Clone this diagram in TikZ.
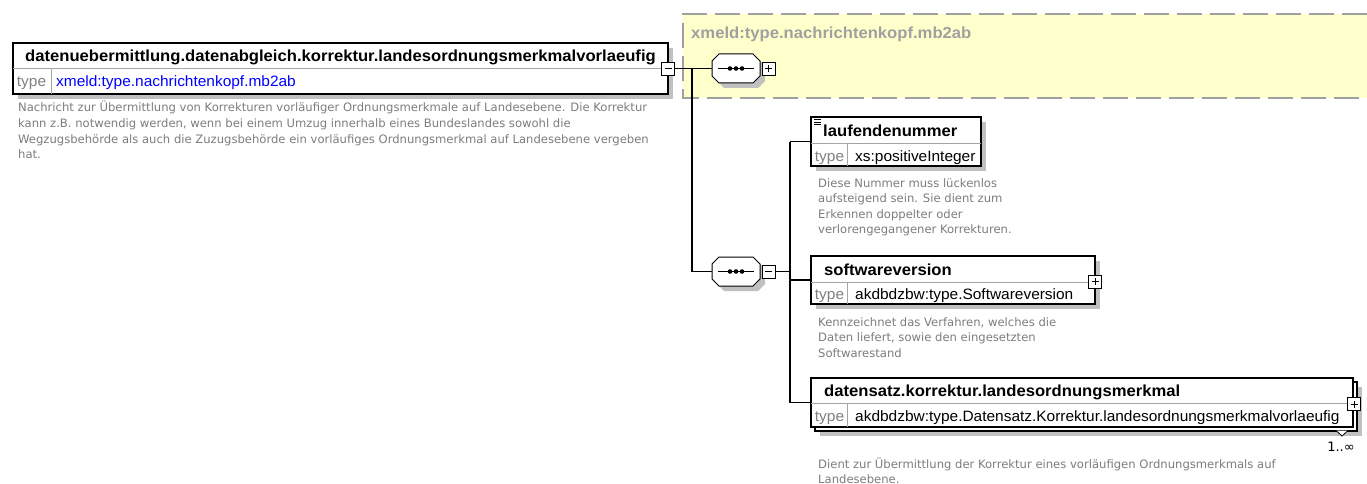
\documentclass[tikz,border=0pt]{standalone}
\usepackage{fontspec}
\setmainfont{Liberation Sans}
\newfontfamily\titlefont[FakeStretch=1.04]{Liberation Sans}
\newfontfamily\typefont[FakeStretch=1.03]{Liberation Sans}
\newfontfamily\descfont{DejaVu Sans}
\definecolor{shadowgray}{RGB}{192,192,192}
\definecolor{sepgray}{RGB}{165,165,165}
\definecolor{lblgray}{RGB}{128,128,128}
\definecolor{descgray}{RGB}{125,125,125}
\definecolor{yellowfill}{RGB}{255,255,204}
\definecolor{dashgray}{RGB}{160,160,160}
\definecolor{linkblue}{RGB}{0,0,255}
\newcommand\desclines[1]{\begin{tabular}[t]{@{}l@{}}#1\end{tabular}}
\tikzset{
  elbox/.style={draw=black, fill=white, line width=1.2pt, inner sep=0pt},
  sepline/.style={draw=sepgray, line width=0.8pt},
  conn/.style={draw=black, line width=1.2pt},
  titletext/.style={anchor=base west, inner sep=0pt, font=\titlefont\bfseries\fontsize{16}{18}\selectfont},
  typelbl/.style={anchor=base, inner sep=0pt, text=lblgray, font=\typefont\fontsize{15}{17}\selectfont},
  typetext/.style={anchor=base west, inner sep=0pt, font=\typefont\fontsize{15}{17}\selectfont},
  desctext/.style={anchor=base west, inner sep=0pt, text=descgray, font=\descfont\fontsize{11.6}{15.6}\selectfont},
  minusbox/.style={draw=black, fill=white, line width=0.9pt, minimum size=13pt, inner sep=0pt,
    path picture={\draw[line width=0.9pt] ([xshift=3pt]path picture bounding box.west) -- ([xshift=-3pt]path picture bounding box.east);}},
  plusbox/.style={draw=black, fill=white, line width=0.9pt, minimum size=13pt, inner sep=0pt,
    path picture={\draw[line width=0.9pt] ([xshift=3pt]path picture bounding box.west) -- ([xshift=-3pt]path picture bounding box.east)
      ([yshift=-3pt]path picture bounding box.north) -- ([yshift=3pt]path picture bounding box.south);}},
}
\newcommand\seqsym[3]{%
  \begin{scope}[shift={(#1,#2)}]
    \fill[shadowgray] (12,5) -- (46,5) -- (53,12) -- (53,27) -- (46,34) -- (12,34) -- (5,27) -- (5,12) -- cycle;
    \draw[fill=white, line width=1pt] (7,0) -- (41,0) -- (48,7) -- (48,22) -- (41,29) -- (7,29) -- (0,22) -- (0,7) -- cycle;
    \draw[line width=1.2pt] (6,14.5) -- (42,14.5);
    \fill (18,14.5) circle (2.3pt) (24,14.5) circle (2.3pt) (30,14.5) circle (2.3pt);
    \node[inner sep=0pt, minimum width=48pt, minimum height=29pt] (#3) at (24,14.5) {};
  \end{scope}}
\begin{document}
\begin{tikzpicture}[x=1pt,y=-1pt]
\useasboundingbox (0,0) rectangle (1367,484);
\fill[white] (0,0) rectangle (1367,484);

% yellow group
\fill[yellowfill] (683,14) rectangle (1367,98);
\draw[dashgray, line width=2pt, dash pattern=on 25pt off 8pt] (1367,14) -- (683,14) -- (683,98) -- (1367,98);
\node[titletext, text=dashgray] (grp) at (691,38.5) {xmeld:type.nachrichtenkopf.mb2ab};

% main element
\fill[shadowgray] (18,48) rectangle (673,99);
\node[elbox, minimum width=655pt, minimum height=51pt] (main) at (340.5,68.5) {};
\draw[sepline] (13,68.5) -- (668,68.5);
\draw[sepline] (51,68.5) -- (51,94);
\node[titletext] (maintitle) at (25,61.5) {datenuebermittlung.datenabgleich.korrektur.landesordnungsmerkmalvorlaeufig};
\node[typelbl] (maintl) at (31.5,86.5) {type};
\node[typetext, text=linkblue] (maintype) at (56,86.5) {xmeld:type.nachrichtenkopf.mb2ab};
\node[desctext] (maindesc) at (18,112) {\desclines{Nachricht zur Übermittlung von Korrekturen vorläufiger Ordnungsmerkmale auf Landesebene. Die Korrektur\\kann z.B. notwendig werden, wenn bei einem Umzug innerhalb eines Bundeslandes sowohl die\\Wegzugsbehörde als auch die Zuzugsbehörde ein vorläufiges Ordnungsmerkmal auf Landesebene vergeben\\hat.}};

% sequences
\seqsym{712}{54}{seqa}
\node[plusbox] (seqapm) at (768.5,68.5) {};
\seqsym{712}{257}{seqb}
\node[minusbox] (seqbpm) at (768.5,271.5) {};

% laufendenummer
\fill[shadowgray] (816,122) rectangle (986,171);
\node[elbox, minimum width=170pt, minimum height=49pt] (lauf) at (896,141.5) {};
\draw[sepline] (811,143) -- (981,143);
\draw[sepline] (847,143) -- (847,166);
\draw[line width=0.8pt] (814,119.5) -- (821,119.5) (814,122) -- (821,122) (814,124.5) -- (821,124.5);
\node[titletext] (lauftitle) at (823,136) {laufendenummer};
\node[typelbl] (lauftl) at (829.5,161) {type};
\node[typetext] (lauftype) at (855,161) {xs:positiveInteger};
\node[desctext] (laufdesc) at (818,187) {\desclines{Diese Nummer muss lückenlos\\aufsteigend sein. Sie dient zum\\Erkennen doppelter oder\\verlorengegangener Korrekturen.}};

% softwareversion
\fill[shadowgray] (816,261) rectangle (1100,309);
\node[elbox, minimum width=284pt, minimum height=48pt] (soft) at (953,280) {};
\draw[sepline] (811,282) -- (1095,282);
\draw[sepline] (847,282) -- (847,304);
\node[titletext] (softtitle) at (824,275) {softwareversion};
\node[typelbl] (softtl) at (829.5,299.5) {type};
\node[typetext] (softtype) at (855,299.5) {akdbdzbw:type.Softwareversion};
\node[plusbox] (softpm) at (1095,281.5) {};
\node[desctext] (softdesc) at (818,326) {\desclines{Kennzeichnet das Verfahren, welches die\\Daten liefert, sowie den eingesetzten\\Softwarestand}};

% datensatz (multiple)
\fill[shadowgray] (820,387) rectangle (1362,436);
\draw[elbox] (815,382) rectangle (1357,431);
\node[elbox, minimum width=542pt, minimum height=49pt] (dats) at (1082,402.5) {};
\draw[sepline] (811,403) -- (1353,403);
\draw[sepline] (847,403) -- (847,427);
\node[titletext] (datstitle) at (824,396.5) {datensatz.korrektur.landesordnungsmerkmal};
\node[typelbl] (datstl) at (829.5,421) {type};
\node[typetext] (datstype) at (855,421) {akdbdzbw:type.Datensatz.Korrektur.landesordnungsmerkmalvorlaeufig};
\node[plusbox] (datspm) at (1354,404) {};
\fill[white] (1336,430.5) -- (1342,436) -- (1348,430.5) -- cycle;
\draw[line width=0.8pt] (1336,430.5) -- (1342,436) -- (1348,430.5);
\node[inner sep=0pt, font=\descfont\fontsize{13}{15}\selectfont] (datsocc) at (1341,447) {1..∞};
\node[desctext] (datsdesc) at (818,468) {\desclines{Dient zur Übermittlung der Korrektur eines vorläufigen Ordnungsmerkmals auf\\Landesebene.}};

% connectors
\node[minusbox] (mainpm) at (668,68.5) {};
\coordinate (bra) at (692,68.5);
\coordinate (vtop) at (790,141.5);
\coordinate (vbot) at (790,402.5);
\coordinate (vmid) at (790,271.5);
\draw[conn] (mainpm.east) -- (seqa.west);
\draw[conn] (bra) |- (seqb.west);
\draw[conn] (seqbpm.east) -- (vmid);
\draw[conn] (vtop) -- (vbot);
\draw[conn] (vtop) -- (lauf.west);
\draw[conn] (vtop |- soft.west) -- (soft.west);
\draw[conn] (vbot) -- (dats.west);
\end{tikzpicture}
\end{document}
